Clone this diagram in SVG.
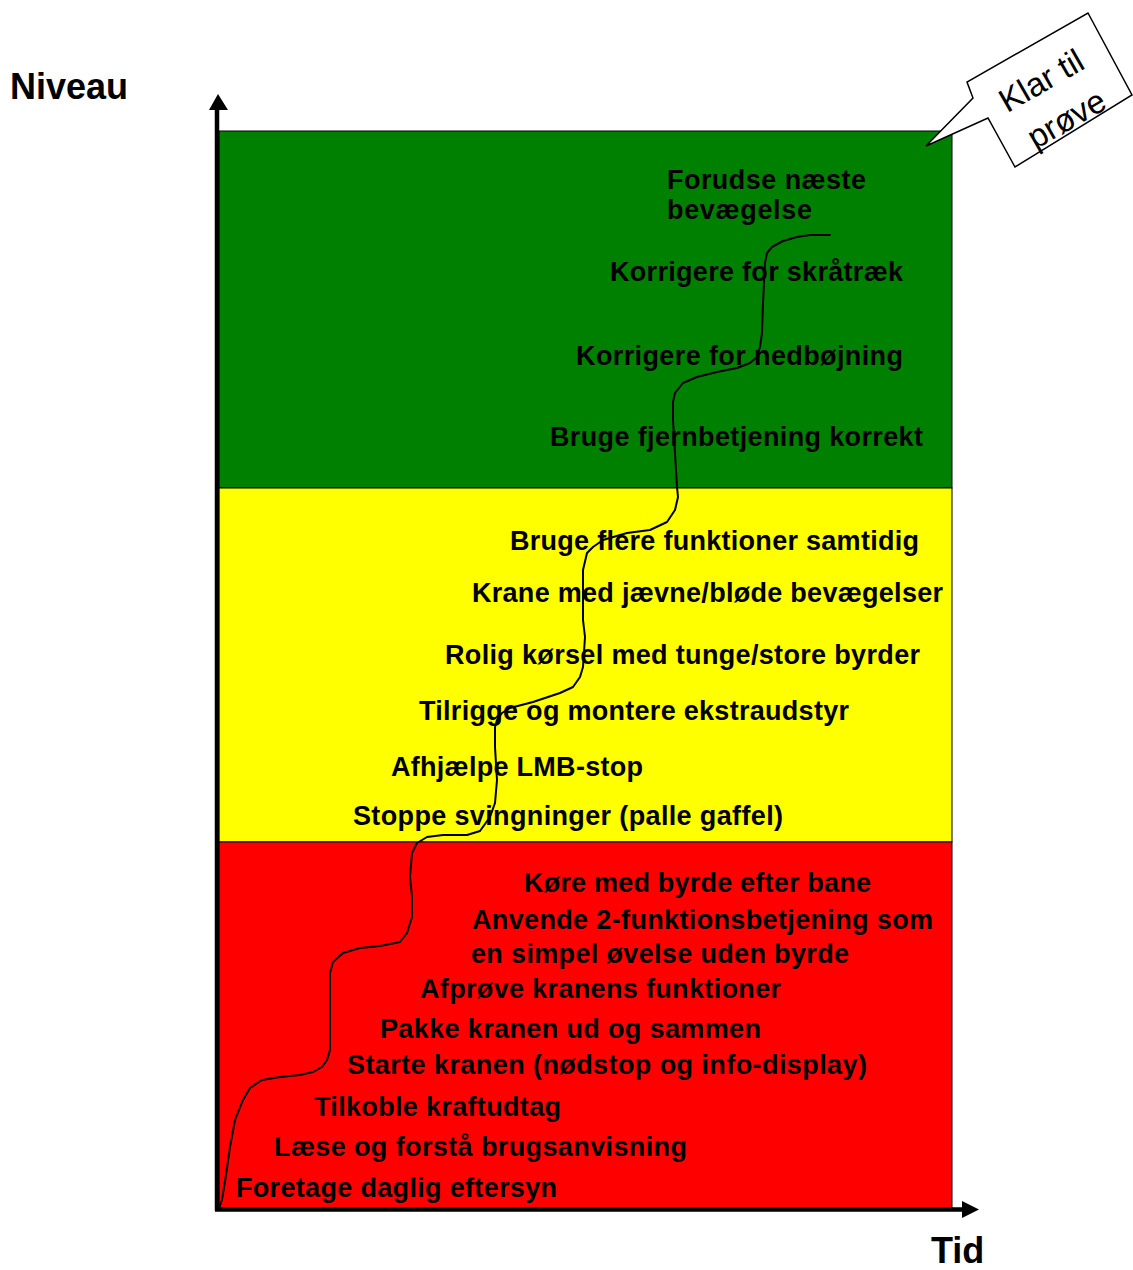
<svg xmlns="http://www.w3.org/2000/svg" width="1133" height="1270" viewBox="0 0 1133 1270">
<style>
.lbl{font-family:"Liberation Sans",Arial,sans-serif;font-weight:bold;font-size:27px;fill:#000}
.ax{font-family:"Liberation Sans",Arial,sans-serif;font-weight:bold;font-size:36px;fill:#000}
.call{font-family:"Liberation Sans",Arial,sans-serif;font-size:33px;fill:#000}
.zone{stroke:#000;stroke-width:1}
</style>
<rect width="1133" height="1270" fill="#fff"/>
<g id="zones">
<rect id="zone-green" class="zone" x="219" y="131" width="733" height="357" fill="#008000"/>
<rect id="zone-yellow" class="zone" x="219" y="488" width="733" height="354" fill="#FFFF00"/>
<rect id="zone-red" class="zone" x="219" y="842" width="733" height="368" fill="#FF0000"/>
</g>
<g id="labels">
<g id="n1"><text class="lbl" x="667" y="189" textLength="199" lengthAdjust="spacing">Forudse næste</text><text class="lbl" x="667" y="219" textLength="145" lengthAdjust="spacing">bevægelse</text></g>
<g id="n2"><text class="lbl" x="610" y="281" textLength="293" lengthAdjust="spacing">Korrigere for skråtræk</text></g>
<g id="n3"><text class="lbl" x="576" y="365" textLength="327" lengthAdjust="spacing">Korrigere for nedbøjning</text></g>
<g id="n4"><text class="lbl" x="550" y="446" textLength="373" lengthAdjust="spacing">Bruge fjernbetjening korrekt</text></g>
<g id="n5"><text class="lbl" x="510" y="550" textLength="409" lengthAdjust="spacing">Bruge flere funktioner samtidig</text></g>
<g id="n6"><text class="lbl" x="472" y="602" textLength="471" lengthAdjust="spacing">Krane med jævne/bløde bevægelser</text></g>
<g id="n7"><text class="lbl" x="445" y="664" textLength="475" lengthAdjust="spacing">Rolig kørsel med tunge/store byrder</text></g>
<g id="n8"><text class="lbl" x="419" y="720" textLength="430" lengthAdjust="spacing">Tilrigge og montere ekstraudstyr</text></g>
<g id="n9"><text class="lbl" x="391" y="776" textLength="252" lengthAdjust="spacing">Afhjælpe LMB-stop</text></g>
<g id="n10"><text class="lbl" x="353" y="825" textLength="430" lengthAdjust="spacing">Stoppe svingninger (palle gaffel)</text></g>
<g id="n11"><text class="lbl" x="524" y="892" textLength="347" lengthAdjust="spacing">Køre med byrde efter bane</text></g>
<g id="n12"><text class="lbl" x="472" y="929" textLength="461" lengthAdjust="spacing">Anvende 2-funktionsbetjening som</text><text class="lbl" x="471" y="963" textLength="378" lengthAdjust="spacing">en simpel øvelse uden byrde</text></g>
<g id="n13"><text class="lbl" x="420" y="998" textLength="361" lengthAdjust="spacing">Afprøve kranens funktioner</text></g>
<g id="n14"><text class="lbl" x="380" y="1038" textLength="381" lengthAdjust="spacing">Pakke kranen ud og sammen</text></g>
<g id="n15"><text class="lbl" x="347" y="1074" textLength="520" lengthAdjust="spacing">Starte kranen (nødstop og info-display)</text></g>
<g id="n16"><text class="lbl" x="314" y="1116" textLength="247" lengthAdjust="spacing">Tilkoble kraftudtag</text></g>
<g id="n17"><text class="lbl" x="274" y="1156" textLength="413" lengthAdjust="spacing">Læse og forstå brugsanvisning</text></g>
<g id="n18"><text class="lbl" x="236" y="1197" textLength="321" lengthAdjust="spacing">Foretage daglig eftersyn</text></g>
</g>
<g id="connectors">
<path id="progress-curve" fill="none" stroke="#000" stroke-width="2" stroke-linejoin="round" stroke-linecap="round" d="M219,1208 L222,1200 L226,1175 L230,1147 L235,1120 L243,1100 L250,1088 L262,1080 L280,1077 L300,1075 L313,1072 L322,1067 L327,1060 L330,1050 L330,1010 L330,973 L333,962 L343,953 L360,948 L380,946 L400,942 L407,933 L412,917 L412,897 L410,877 L412,853 L417,843 L427,837 L443,835 L467,835 L480,831 L490,817 L495,803 L497,780 L495,747 L495,727 L497,720 L502,713 L510,708 L533,702 L560,693 L573,687 L580,677 L583,667 L585,637 L583,620 L583,570 L587,553 L593,547 L603,540 L627,533 L650,530 L667,522 L675,510 L678,497 L677,487 L675,453 L673,420 L673,402 L675,393 L683,383 L697,377 L717,372 L737,368 L750,363 L757,357 L760,347 L762,333 L763,303 L765,263 L767,253 L772,247 L783,241 L797,237 L810,235 L830,235"/>
</g>
<g id="axes">
<line x1="217" y1="108" x2="217" y2="1211" stroke="#000" stroke-width="4.5"/>
<polygon points="218,94 209,110 228,110" fill="#000"/>
<line x1="215" y1="1209.5" x2="964" y2="1209.5" stroke="#000" stroke-width="4.5"/>
<polygon points="979,1209.5 962,1201 962,1218" fill="#000"/>
<text class="ax" x="10" y="99">Niveau</text>
<text class="ax" x="931" y="1263">Tid</text>
</g>
<g id="callout">
<polygon points="1088,13 1132,95 1015,167 988,118 926,146 973,98 967,82" fill="#fff" stroke="#000" stroke-width="1.5" stroke-linejoin="miter"/>
<g transform="translate(1041,80) rotate(-30)"><text class="call" x="0" y="12" text-anchor="middle">Klar til</text></g>
<g transform="translate(1067,120) rotate(-30)"><text class="call" x="0" y="10" text-anchor="middle">prøve</text></g>
</g>
</svg>
